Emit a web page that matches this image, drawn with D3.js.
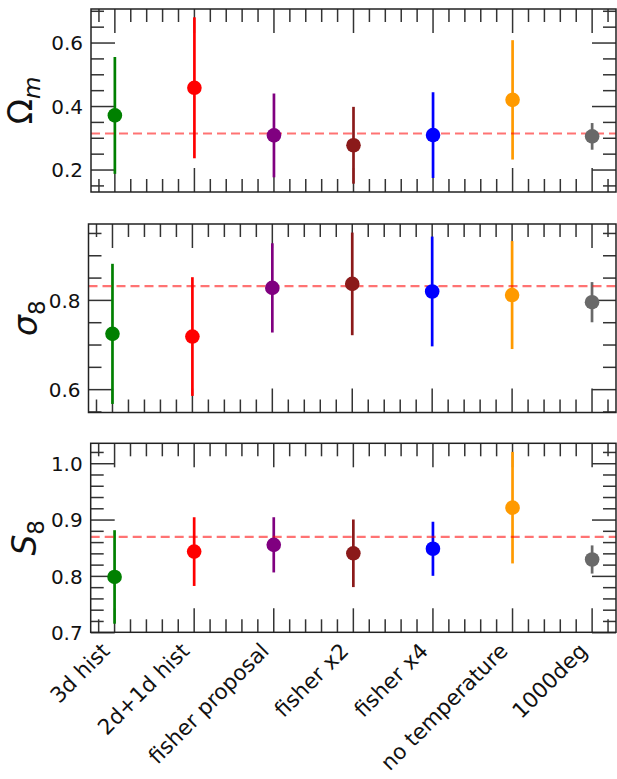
<!DOCTYPE html>
<html>
<head>
<meta charset="utf-8">
<script src="https://cdn.jsdelivr.net/npm/d3@7"></script>
<style>
  html, body { margin: 0; padding: 0; background: #fff; }
  svg { display: block; font-family: "DejaVu Sans", sans-serif; }
</style>
</head>
<body>
<svg id="chart" width="617" height="779"></svg>
<script>
// ---------------- data ----------------
const categories = ["3d hist", "2d+1d hist", "fisher proposal", "fisher x2", "fisher x4", "no temperature", "1000deg"];
const colors = ["green", "red", "purple", "#8b1a1a", "blue", "#ff9a00", "dimgray"];

const omegaM    = [0.372, 0.459, 0.309, 0.278, 0.310, 0.421, 0.306];
const omegaMErr = [0.184, 0.222, 0.132, 0.121, 0.135, 0.188, 0.042];
const omegaMRef = 0.315;

const sigma8    = [0.725, 0.719, 0.828, 0.837, 0.820, 0.812, 0.796];
const sigma8Err = [0.157, 0.133, 0.100, 0.115, 0.123, 0.121, 0.045];
const sigma8Ref = 0.832;

const s8    = [0.799, 0.844, 0.856, 0.841, 0.849, 0.922, 0.830];
const s8Err = [0.083, 0.061, 0.049, 0.060, 0.048, 0.099, 0.025];
const s8Ref = 0.870;

const omegaTicks = [0.2, 0.4, 0.6];
const sigmaTicks = [0.6, 0.8];
const s8Ticks    = [0.7, 0.8, 0.9, 1.0];

// ---------------- layout ----------------
const svg = d3.select("#chart");
const panels = [
  { main: "Ω", sub: "m", mainItalic: false, vals: omegaM, errs: omegaMErr, ref: omegaMRef, ticks: omegaTicks, minor: 0.05,
    box: { x0: 91, x1: 616, y0: 9, y1: 192 }, labelX: 32 },
  { main: "σ", sub: "8", mainItalic: true, vals: sigma8, errs: sigma8Err, ref: sigma8Ref, ticks: sigmaTicks, minor: 0.05,
    box: { x0: 88.5, x1: 616, y0: 224, y1: 412.5 }, labelX: 37 },
  { main: "S", sub: "8", mainItalic: true, vals: s8, errs: s8Err, ref: s8Ref, ticks: s8Ticks, minor: 0.02,
    box: { x0: 90.7, x1: 616, y0: 443.3, y1: 632.3 }, labelX: 36 }
];

const tickColor = "#333";
const majorLen = 24, minorLen = 13;
const idx = categories.map((d, i) => i);

panels.forEach((p, pi) => {
  const b = p.box;
  const n = categories.length;
  const x = d3.scaleLinear().domain([-0.05 * (n - 1), (n - 1) * 1.05]).range([b.x0, b.x1]);
  const lo = d3.min(p.vals.map((v, i) => v - p.errs[i]));
  const hi = d3.max(p.vals.map((v, i) => v + p.errs[i]));
  const pad = 0.05 * (hi - lo);
  const y = d3.scaleLinear().domain([lo - pad, hi + pad]).range([b.y1, b.y0]);

  const g = svg.append("g");

  const xMinor = d3.range(-1, 5 * (n - 1) + 2).filter(k => k % 5 !== 0).map(k => k * 0.2)
    .filter(v => v >= x.domain()[0] && v <= x.domain()[1]);
  const yd = y.domain();
  const yMinor = d3.range(Math.ceil(yd[0] / p.minor - 1e-6), Math.floor(yd[1] / p.minor + 1e-6) + 1)
    .map(k => +(k * p.minor).toFixed(4))
    .filter(v => !p.ticks.some(t => Math.abs(t - v) < 1e-6));

  const ticks = g.append("g").attr("stroke", tickColor).attr("stroke-width", 1.5);
  idx.forEach(i => {
    const xx = x(i);
    ticks.append("line").attr("x1", xx).attr("x2", xx).attr("y1", b.y0).attr("y2", b.y0 + majorLen);
    ticks.append("line").attr("x1", xx).attr("x2", xx).attr("y1", b.y1).attr("y2", b.y1 - majorLen);
  });
  xMinor.forEach(v => {
    const xx = x(v);
    ticks.append("line").attr("x1", xx).attr("x2", xx).attr("y1", b.y0).attr("y2", b.y0 + minorLen);
    ticks.append("line").attr("x1", xx).attr("x2", xx).attr("y1", b.y1).attr("y2", b.y1 - minorLen);
  });
  p.ticks.forEach(v => {
    const yy = y(v);
    ticks.append("line").attr("x1", b.x0).attr("x2", b.x0 + majorLen).attr("y1", yy).attr("y2", yy);
    ticks.append("line").attr("x1", b.x1).attr("x2", b.x1 - majorLen).attr("y1", yy).attr("y2", yy);
  });
  yMinor.forEach(v => {
    const yy = y(v);
    ticks.append("line").attr("x1", b.x0).attr("x2", b.x0 + minorLen).attr("y1", yy).attr("y2", yy);
    ticks.append("line").attr("x1", b.x1).attr("x2", b.x1 - minorLen).attr("y1", yy).attr("y2", yy);
  });

  // error bars
  g.append("g").selectAll("line").data(idx).join("line")
    .attr("x1", i => x(i)).attr("x2", i => x(i))
    .attr("y1", i => y(p.vals[i] - p.errs[i])).attr("y2", i => y(p.vals[i] + p.errs[i]))
    .attr("stroke", i => colors[i]).attr("stroke-width", 2.7);

  // reference line
  g.append("line")
    .attr("x1", b.x0).attr("x2", b.x1).attr("y1", y(p.ref)).attr("y2", y(p.ref))
    .attr("stroke", "red").attr("stroke-opacity", 0.55).attr("stroke-width", 2.2)
    .attr("stroke-dasharray", "9,5");

  // markers
  g.append("g").selectAll("circle").data(idx).join("circle")
    .attr("cx", i => x(i)).attr("cy", i => y(p.vals[i])).attr("r", 7.3)
    .attr("fill", i => colors[i]);

  // frame
  g.append("rect").attr("x", b.x0).attr("y", b.y0).attr("width", b.x1 - b.x0).attr("height", b.y1 - b.y0)
    .attr("fill", "none").attr("stroke", "#222").attr("stroke-width", 1.5);

  // y tick labels
  g.append("g").selectAll("text").data(p.ticks).join("text")
    .attr("x", b.x0 - 8).attr("y", v => y(v)).attr("dy", "0.36em")
    .attr("text-anchor", "end").attr("font-size", 20).attr("fill", "#111")
    .text(v => d3.format(".1f")(v));

  // y axis label
  const lab = g.append("text")
    .attr("transform", `translate(${p.labelX},${(b.y0 + b.y1) / 2}) rotate(-90)`)
    .attr("text-anchor", "middle").attr("font-size", 33).attr("fill", "#111");
  lab.append("tspan").attr("font-style", p.mainItalic ? "italic" : "normal").text(p.main);
  lab.append("tspan").attr("font-size", 23).attr("dy", 8)
    .attr("font-style", p.sub === "m" ? "italic" : "normal").text(p.sub);

  // x tick labels on last panel
  if (pi === panels.length - 1) {
    g.append("g").selectAll("text").data(idx).join("text")
      .attr("transform", i => `translate(${x(i) - 3.5},${b.y1 + 20}) rotate(-45)`)
      .attr("text-anchor", "end").attr("font-size", 21.5).attr("fill", "#111")
      .text(i => categories[i]);
  }
});
</script>
</body>
</html>
